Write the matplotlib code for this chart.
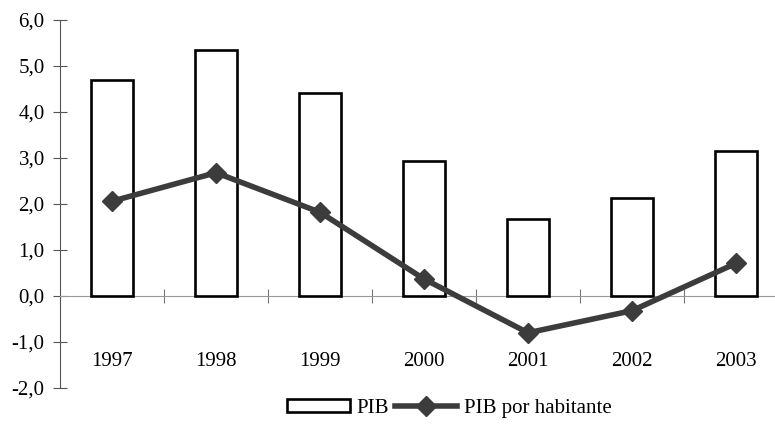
import matplotlib.pyplot as plt
import numpy as np

years = ["1997", "1998", "1999", "2000", "2001", "2002", "2003"]
pib = [4.7, 5.35, 4.42, 2.94, 1.67, 2.12, 3.16]
pib_hab = [2.06, 2.68, 1.82, 0.37, -0.80, -0.32, 0.71]
y_ticks = [-2, -1, 0, 1, 2, 3, 4, 5, 6]

plt.rcParams['font.family'] = ['Liberation Serif', 'DejaVu Serif']

fig = plt.figure(figsize=(7.75, 4.3), dpi=100)
ax = fig.add_axes([0.0774, 0.0977, 0.9226, 0.8558])

x = np.arange(len(years))
bars = ax.bar(x, pib, width=0.4, color='white', edgecolor='black', linewidth=1.9, zorder=3, label='PIB')
line, = ax.plot(x, pib_hab, color='#3c3c3c', linewidth=4, marker='D', markersize=10,
                zorder=4, label='PIB por habitante')

ax.set_xlim(-0.5, 6.375)
ax.set_ylim(-2, 6)
ax.set_yticks(y_ticks)
ax.set_yticklabels([f"{v:.1f}".replace('.', ',') for v in y_ticks], fontsize=15)
ax.tick_params(axis='y', direction='inout', length=10, width=0.8, color='#555555', pad=6)

ax.spines['bottom'].set_position(('data', 0))
ax.spines['bottom'].set_color('#999999')
ax.spines['left'].set_color('#555555')
ax.spines['top'].set_visible(False)
ax.spines['right'].set_visible(False)

ax.set_xticks(x)
ax.set_xticklabels(years, fontsize=15)
ax.tick_params(axis='x', which='major', length=0, pad=40)
ax.set_xticks(np.arange(0.5, 6.5, 1), minor=True)
ax.tick_params(axis='x', which='minor', direction='inout', length=10, width=0.8, color='#777777')

fig.legend([bars, line], ['PIB', 'PIB por habitante'], loc='center', bbox_to_anchor=(0.58, 0.05),
           ncol=2, frameon=False, fontsize=15, handlelength=3.0, handleheight=0.6,
           handletextpad=0.3, columnspacing=0.3)

fig.savefig('out.png', dpi=100)
